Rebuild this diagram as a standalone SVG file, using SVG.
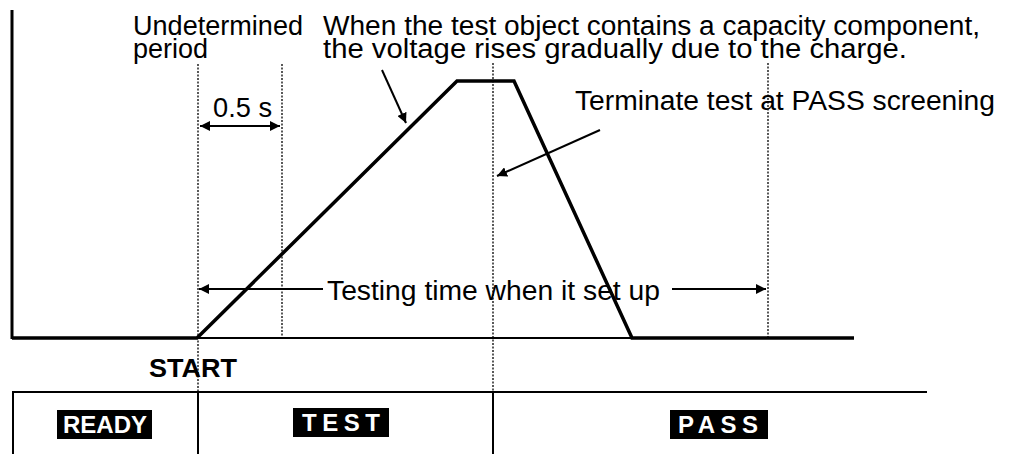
<svg xmlns="http://www.w3.org/2000/svg" width="1013" height="454" viewBox="0 0 1013 454">
<defs>
<style>
.t{font-family:"Liberation Sans",Arial,sans-serif;font-size:27px;fill:#000}
.b{font-family:"Liberation Sans",Arial,sans-serif;font-weight:bold;fill:#000}
.w{font-family:"Liberation Sans",Arial,sans-serif;font-weight:bold;font-size:24px;fill:#fff}
.dot{stroke:#000;stroke-width:1.3;stroke-dasharray:2,1.5;fill:none}
.sol{stroke:#000;stroke-width:2;fill:none}
.wave{stroke:#000;stroke-width:3.5;fill:none;stroke-linejoin:miter}
.arr{stroke:#000;stroke-width:2;fill:none}
</style>
<marker id="ah" viewBox="0 0 10 10" refX="10" refY="5" markerWidth="10" markerHeight="10" markerUnits="userSpaceOnUse" orient="auto-start-reverse">
<path d="M0,0 L10,5 L0,10 z" fill="#000"/>
</marker>
</defs>
<rect width="1013" height="454" fill="#fff"/>
<g id="axes">
<line x1="12" y1="10" x2="12" y2="339" stroke="#000" stroke-width="3"/>
<line x1="197" y1="338" x2="632" y2="338" class="sol"/>
</g>
<g id="guides">
<line x1="198" y1="64" x2="198" y2="392" class="dot"/>
<line x1="282" y1="64" x2="282" y2="338" class="dot"/>
<line x1="493" y1="63" x2="493" y2="392" class="dot"/>
<line x1="768" y1="63" x2="768" y2="338" class="dot"/>
</g>
<g id="waveform">
<path d="M12,338 L197,338 L457,81 L514,81 L632,338 L854,338" class="wave"/>
</g>
<g id="table">
<line x1="13" y1="392" x2="927" y2="392" class="sol"/>
<line x1="13" y1="391" x2="13" y2="454" class="sol"/>
<line x1="198" y1="392" x2="198" y2="454" class="sol"/>
<line x1="493" y1="392" x2="493" y2="454" class="sol"/>
</g>
<g id="connectors">
<line x1="200" y1="126" x2="280" y2="126" class="arr" marker-start="url(#ah)" marker-end="url(#ah)"/>
<line x1="323" y1="289" x2="199" y2="289" class="arr" marker-end="url(#ah)"/>
<line x1="672" y1="289" x2="766" y2="289" class="arr" marker-end="url(#ah)"/>
<line x1="382" y1="70" x2="406" y2="123" class="arr" marker-end="url(#ah)"/>
<line x1="600" y1="130" x2="497" y2="176" class="arr" marker-end="url(#ah)"/>
</g>
<g id="label-undetermined">
<text class="t" x="133" y="35" textLength="170" lengthAdjust="spacingAndGlyphs">Undetermined</text>
<text class="t" x="133" y="58">period</text>
</g>
<g id="label-capacity">
<text class="t" x="323" y="35" textLength="657" lengthAdjust="spacingAndGlyphs">When the test object contains a capacity component,</text>
<text class="t" x="323" y="58" textLength="584" lengthAdjust="spacingAndGlyphs">the voltage rises gradually due to the charge.</text>
</g>
<g id="label-terminate">
<text class="t" x="575" y="110" textLength="420" lengthAdjust="spacingAndGlyphs">Terminate test at PASS screening</text>
</g>
<g id="label-half">
<text class="t" x="213" y="117" textLength="59" lengthAdjust="spacingAndGlyphs">0.5 s</text>
</g>
<g id="label-testing">
<text class="t" x="327" y="300" textLength="333" lengthAdjust="spacingAndGlyphs">Testing time when it set up</text>
</g>
<g id="label-start">
<text class="b" x="149" y="377" font-size="26" textLength="88" lengthAdjust="spacingAndGlyphs">START</text>
</g>
<g id="state-ready">
<rect x="57" y="410" width="95" height="29" fill="#000"/>
<text class="w" x="63" y="433" textLength="84" lengthAdjust="spacingAndGlyphs">READY</text>
</g>
<g id="state-test">
<rect x="293" y="408" width="96" height="29" fill="#000"/>
<text class="w" x="302" y="431" textLength="78" lengthAdjust="spacing">TEST</text>
</g>
<g id="state-pass">
<rect x="670" y="410" width="98" height="29" fill="#000"/>
<text class="w" x="678" y="433" textLength="80" lengthAdjust="spacing">PASS</text>
</g>
</svg>
